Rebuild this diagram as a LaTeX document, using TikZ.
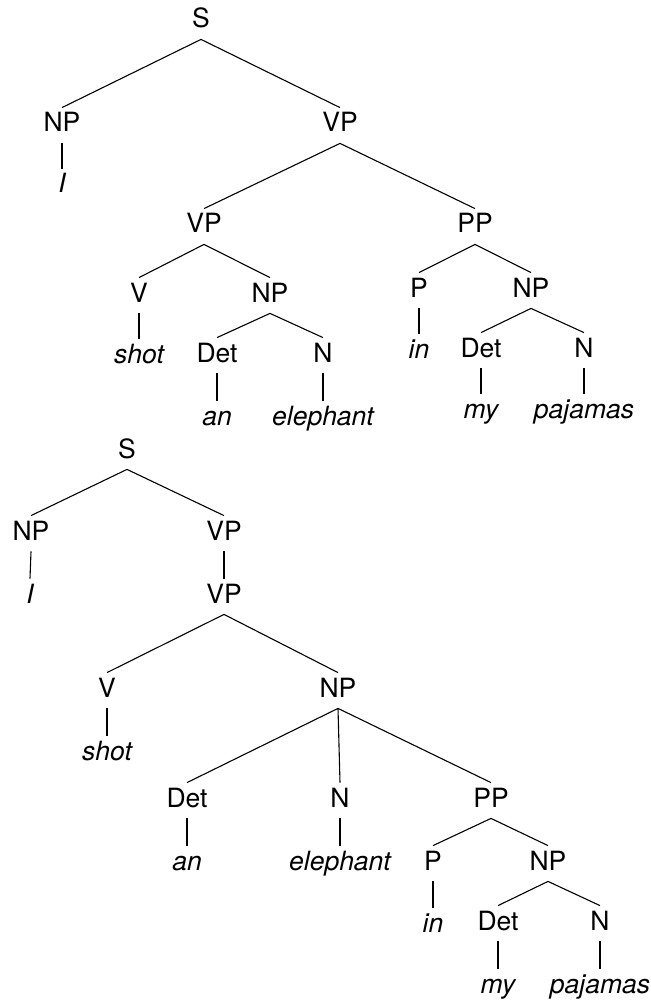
\documentclass[tikz,border=0pt]{standalone}
\usepackage{fontspec}
\setmainfont{TeX Gyre Heros}

\tikzset{cat/.style={anchor=base,font=\fontsize{13.25}{16}\selectfont,
    text height=9.5pt,text depth=3pt,inner sep=2.5pt},
  word/.style={font=\fontsize{13.25}{16}\selectfont\itshape}}

\begin{document}
\begin{tikzpicture}[x=0.5pt,y=-0.5pt]
    \useasboundingbox (0,0) rectangle (651,1000);

    % first reading: PP attached to VP
    \begin{scope}[every node/.style={cat}]
      \node (aS) at (201,28) {S};
      \node (aNP) at (62,132) {NP};
      \node (aVP) at (340,132) {VP};
      \node[word] (aI) at (62,193) {I};
      \node (aVPb) at (204,233) {VP};
      \node (aPP) at (475,233) {PP};
      \node (aV) at (139,302) {V};
      \node (aNPb) at (270,302) {NP};
      \node (aP) at (419,297) {P};
      \node (aNPc) at (531,297) {NP};
      \node[word] (ashot) at (139,363) {shot};
      \node[word] (ain) at (419,358) {in};
      \node (aDet) at (217,362) {Det};
      \node (aN) at (323,362) {N};
      \node (aDetb) at (481,357) {Det};
      \node (aNb) at (584,357) {N};
      \node[word] (aan) at (217,425) {an};
      \node[word] (aeleph) at (323,425) {elephant};
      \node[word] (amy) at (481,418) {my};
      \node[word] (apaj) at (584,418) {pajamas};
    \end{scope}

    % second reading: PP attached to NP
    \begin{scope}[every node/.style={cat}]
      \node (bS) at (127,458) {S};
      \node (bNP) at (31,540) {NP};
      \node (bVP) at (224,540) {VP};
      \node[word] (bI) at (30,603) {I};
      \node (bVPb) at (224,603) {VP};
      \node (bV) at (107,697) {V};
      \node (bNPb) at (338,697) {NP};
      \node[word] (bshot) at (107,760) {shot};
      \node (bDet) at (187,807) {Det};
      \node (bN) at (340,807) {N};
      \node (bPP) at (491,807) {PP};
      \node[word] (ban) at (187,870) {an};
      \node[word] (beleph) at (340,870) {elephant};
      \node (bP) at (433,870) {P};
      \node (bNPc) at (548,870) {NP};
      \node[word] (bin) at (433,932) {in};
      \node (bDetb) at (498,930) {Det};
      \node (bNb) at (600,930) {N};
      \node[word] (bmy) at (498,993) {my};
      \node[word] (bpaj) at (600,993) {pajamas};
    \end{scope}

    \begin{scope}[every edge/.style={draw=black,line width=0.55pt}]
      \path (aS.south) edge (aNP.north) edge (aVP.north);
      \path (aNP.south) edge (aI.north);
      \path (aVP.south) edge (aVPb.north) edge (aPP.north);
      \path (aVPb.south) edge (aV.north) edge (aNPb.north);
      \path (aV.south) edge (ashot.north);
      \path (aNPb.south) edge (aDet.north) edge (aN.north);
      \path (aDet.south) edge (aan.north);
      \path (aN.south) edge (aeleph.north);
      \path (aPP.south) edge (aP.north) edge (aNPc.north);
      \path (aP.south) edge (ain.north);
      \path (aNPc.south) edge (aDetb.north) edge (aNb.north);
      \path (aDetb.south) edge (amy.north);
      \path (aNb.south) edge (apaj.north);

      \path (bS.south) edge (bNP.north) edge (bVP.north);
      \path (bNP.south) edge (bI.north);
      \path (bVP.south) edge (bVPb.north);
      \path (bVPb.south) edge (bV.north) edge (bNPb.north);
      \path (bV.south) edge (bshot.north);
      \path (bNPb.south) edge (bDet.north) edge (bN.north) edge (bPP.north);
      \path (bDet.south) edge (ban.north);
      \path (bN.south) edge (beleph.north);
      \path (bPP.south) edge (bP.north) edge (bNPc.north);
      \path (bP.south) edge (bin.north);
      \path (bNPc.south) edge (bDetb.north) edge (bNb.north);
      \path (bDetb.south) edge (bmy.north);
      \path (bNb.south) edge (bpaj.north);
    \end{scope}
  \end{tikzpicture}
\end{document}
